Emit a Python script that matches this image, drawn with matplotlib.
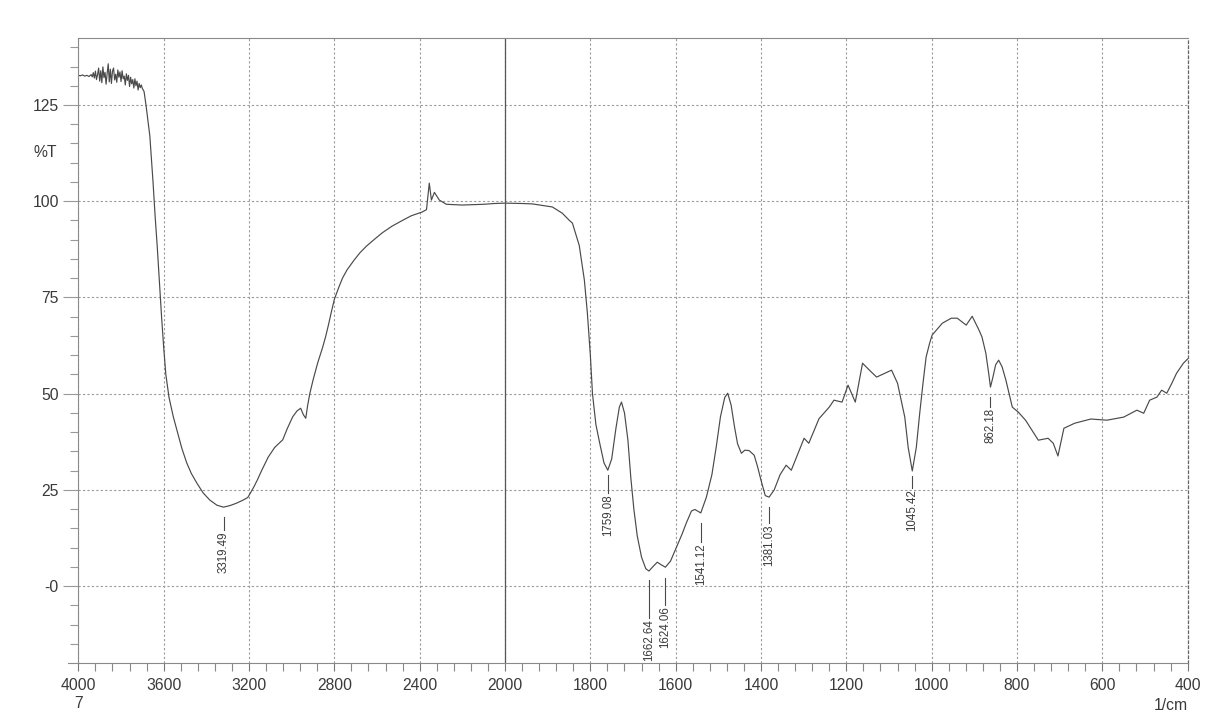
import numpy as np
import matplotlib
matplotlib.use('Agg')
import matplotlib.pyplot as plt
from matplotlib.ticker import FixedLocator, FixedFormatter

plt.rcParams['font.family'] = ['Liberation Sans', 'DejaVu Sans']

# spectrum, wavenumber (1/cm) and transmittance (%T)
noise_wn = [4000, 3990, 3980, 3970, 3960, 3950, 3940, 3935, 3930, 3925, 3920,
            3915, 3910, 3905, 3900, 3895, 3890, 3885, 3880, 3875, 3870, 3865,
            3860, 3855, 3850, 3845, 3840, 3835, 3830, 3825, 3820, 3815, 3810,
            3805, 3800, 3795, 3790, 3785, 3780, 3775, 3770, 3765, 3760, 3755,
            3750, 3745, 3740, 3735, 3730, 3725, 3720, 3715, 3710, 3705, 3700,
            3692]
noise_t = [132.7, 132.6, 132.8, 132.5, 132.7, 132.4, 132.9, 132.3, 133.4, 132.0,
           133.8, 131.6, 132.9, 134.6, 131.2, 133.9, 130.8, 134.9, 132.1, 133.5,
           130.4, 133.2, 135.7, 131.0, 134.3, 130.6, 133.8, 134.6, 131.5, 133.0,
           130.9, 134.1, 132.2, 133.6, 131.1, 133.9, 131.8, 132.5, 130.2, 133.1,
           131.4, 132.7, 129.8, 132.2, 130.5, 131.6, 129.4, 131.8, 130.0, 131.2,
           128.9, 130.6, 129.5, 130.2, 129.3, 128.5]

body_wn = [3683, 3665, 3650, 3640, 3630, 3620, 3610, 3600, 3590, 3575, 3555,
           3538, 3515, 3492, 3470, 3445, 3415, 3383, 3350, 3319.49, 3290, 3260,
           3229, 3206, 3190, 3175, 3159, 3141, 3110, 3080, 3042, 3020, 2995,
           2975, 2958, 2945, 2934, 2925, 2915, 2900, 2878, 2855, 2840, 2827,
           2815, 2800, 2780, 2762, 2740, 2706, 2680, 2650, 2610, 2575, 2530,
           2481, 2440, 2388, 2368, 2355, 2345, 2331, 2308, 2275, 2200, 2100,
           2050, 2000, 1960, 1936, 1889, 1866, 1849, 1842, 1826, 1814, 1807,
           1800, 1795, 1787, 1778, 1768, 1759.08, 1750, 1740, 1732, 1727, 1720,
           1712, 1705, 1698, 1690, 1680, 1670, 1662.64, 1652, 1643, 1635,
           1624.06, 1612, 1598, 1585, 1575, 1563, 1555, 1541.12, 1528, 1515,
           1505, 1495, 1485, 1478, 1470, 1462, 1455, 1446, 1438, 1428, 1416,
           1408, 1400, 1390, 1381.03, 1369, 1355, 1341, 1329, 1315, 1299, 1288,
           1264, 1240, 1229, 1210, 1196, 1179, 1162, 1145, 1129, 1094, 1080,
           1063, 1055, 1045.42, 1036, 1028, 1020, 1013, 1005, 999, 975, 954,
           940, 919, 905, 889, 882, 873, 866, 862.18, 857, 850, 843, 835, 826,
           811, 797, 780, 765, 750, 727, 715, 704, 690, 665, 627, 589, 550, 519,
           503, 489, 472, 461, 449, 437, 426, 410, 400]
body_t = [125.0, 117.0, 105.0, 96.0, 88.0, 79.0, 70.0, 62.0, 55.0, 49.0, 44.0,
          40.5, 35.8, 32.0, 29.2, 26.8, 24.2, 22.3, 21.0, 20.5, 20.9, 21.5,
          22.3, 23.0, 24.5, 26.0, 27.8, 30.0, 33.5, 36.0, 38.0, 41.0, 44.0,
          45.5, 46.2, 44.5, 43.6, 47.0, 50.0, 53.5, 58.0, 62.0, 65.0, 68.0,
          71.0, 74.5, 77.5, 80.0, 82.2, 84.8, 86.6, 88.3, 90.2, 91.8, 93.5,
          95.0, 96.2, 97.2, 97.8, 104.7, 100.3, 102.3, 100.3, 99.2, 99.0, 99.2,
          99.4, 99.5, 99.4, 99.3, 98.5, 96.9, 95.0, 94.3, 88.5, 79.5, 71.0,
          60.0, 50.0, 42.0, 37.1, 32.0, 30.1, 33.0, 41.0, 46.5, 47.8, 45.0,
          38.0, 28.0, 20.0, 13.0, 7.5, 4.5, 3.9, 5.2, 6.2, 5.6,
          4.9, 6.5, 10.1, 13.5, 16.4, 19.5, 19.9, 19.0, 23.1, 29.0,
          36.1, 44.0, 49.0, 50.1, 47.0, 41.3, 37.0, 34.5, 35.3, 35.2, 34.0,
          31.0, 27.5, 23.5, 23.1, 25.0, 29.0, 31.4, 30.1, 34.0, 38.4, 37.1,
          43.5, 46.5, 48.3, 47.8, 52.2, 47.8, 57.9, 56.0, 54.3, 56.1, 52.7,
          43.9, 36.0, 29.9, 36.0, 44.9, 53.0, 59.5, 63.0, 65.2, 68.3, 69.6,
          69.6, 67.8, 70.1, 66.5, 64.7, 60.5, 55.0, 51.7, 54.0, 57.5, 58.7, 57.0, 53.5,
          46.5, 45.2, 43.1, 40.5, 37.9, 38.4, 37.1, 33.8, 41.0, 42.3, 43.4, 43.1, 43.9, 45.7,
          44.9, 48.3, 49.1, 50.9, 50.1, 52.7, 55.3, 57.9, 59.0]

spec_wn = noise_wn + body_wn
spec_t = noise_t + body_t

# picked peaks
peak_wn = [3319.49, 1759.08, 1662.64, 1624.06, 1541.12, 1381.03, 1045.42, 862.18]
peak_t = [20.5, 30.1, 3.9, 4.9, 19.0, 23.1, 29.9, 51.7]
# gap under the peak and length of the leader line, in %T
lead_gap = [2.6, 1.3, 2.3, 2.9, 2.6, 2.6, 1.3, 2.6]
lead_len = [3.4, 4.7, 9.9, 6.8, 4.9, 4.2, 3.0, 2.6]

xmajor = [4000, 3600, 3200, 2800, 2400, 2000, 1800, 1600, 1400, 1200, 1000, 800, 600, 400]
xlabels = ['4000\n7', '3600', '3200', '2800', '2400', '2000', '1800', '1600',
           '1400', '1200', '1000', '800', '600', '400']
ymajor = [0, 25, 50, 75, 100, 125]
ylabels = ['-0', '25', '50', '75', '100', '125']


# scale changes at 2000: 400/div above, 200/div below
def fwd(x):
    x = np.asarray(x, dtype=float)
    return np.where(x >= 2000, (x - 2000) / 400.0, (x - 2000) / 200.0)


def inv(u):
    u = np.asarray(u, dtype=float)
    return np.where(u >= 0, 2000 + u * 400.0, 2000 + u * 200.0)


text_col = '#3a3a3a'
grid_col = '#9a9a9a'

fig = plt.figure(figsize=(12.13, 7.27), dpi=100)
fig.set_facecolor('white')
ax = fig.add_axes([0.0646, 0.0880, 0.9145, 0.8597])

ax.set_xscale('function', functions=(fwd, inv))
ax.set_xlim(4000, 400)
ax.set_ylim(-20, 142.4)

ax.plot(spec_wn, spec_t, color='#4a4a4a', lw=0.85)

# peak labels
for wn, t, g, l in zip(peak_wn, peak_t, lead_gap, lead_len):
    ax.plot([wn, wn], [t - g, t - g - l], color='#4a4a4a', lw=0.8)
    ax.text(wn, t - g - l - 0.3, f'{wn:.2f}', rotation=90, ha='center', va='top',
            fontsize=8.3, color=text_col)

# ticks
ax.xaxis.set_major_locator(FixedLocator(xmajor))
ax.xaxis.set_major_formatter(FixedFormatter(xlabels))
xminor = list(range(4000, 2000, -80)) + list(range(2000, 399, -40))
ax.xaxis.set_minor_locator(FixedLocator(xminor))
ax.yaxis.set_major_locator(FixedLocator(ymajor))
ax.yaxis.set_major_formatter(FixedFormatter(ylabels))
ax.yaxis.set_minor_locator(FixedLocator(list(range(-15, 141, 5))))

ax.tick_params(axis='x', which='major', length=6, width=0.8, pad=5, colors='#777777',
               labelcolor=text_col, labelsize=11.3)
ax.tick_params(axis='x', which='minor', length=6, width=0.8, colors='#888888')
ax.tick_params(axis='y', which='major', length=11, width=0.8, pad=3, colors='#999999',
               labelcolor=text_col, labelsize=11.3)
ax.tick_params(axis='y', which='minor', length=6, width=0.8, colors='#999999')

# dashed grid, solid line at the scale break
ax.grid(True, which='major', linestyle=(0, (2, 2)), color=grid_col, lw=0.8)
ax.axvline(2000, color='#555555', lw=0.9)

for side in ['left', 'bottom', 'top']:
    ax.spines[side].set_color('#8a8a8a')
    ax.spines[side].set_linewidth(0.8)
ax.spines['right'].set_color('#666666')
ax.spines['right'].set_linestyle((0, (2, 2)))
ax.spines['right'].set_linewidth(0.9)

# x axis line runs a bit past the left edge
ax.plot([-0.009, 0], [0, 0], transform=ax.transAxes, clip_on=False,
        color='#8a8a8a', lw=0.8)

fig.text(0.037, 0.790, '%T', ha='center', va='center', fontsize=11.3, color=text_col)
fig.text(0.979, 0.029, '1/cm', ha='right', va='center', fontsize=11.3, color=text_col)

plt.savefig('out.png', dpi=100, facecolor='white')
